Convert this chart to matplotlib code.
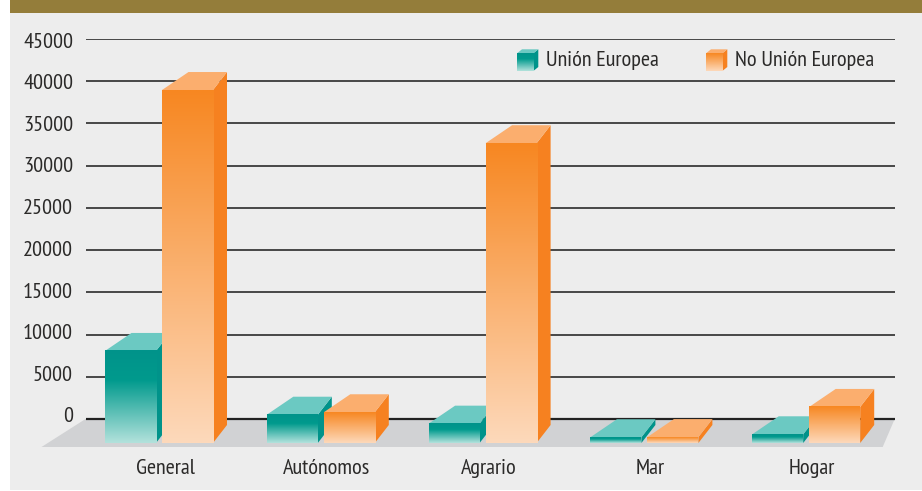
import numpy as np
import matplotlib
matplotlib.use("Agg")
import matplotlib.pyplot as plt
from matplotlib.patches import Polygon, Rectangle
from matplotlib.colors import LinearSegmentedColormap
from matplotlib.transforms import ScaledTranslation, Affine2D
from matplotlib import font_manager as fm

installed = {f.name for f in fm.fontManager.ttflist}
FONT = next((n for n in ["PT Sans Narrow", "Fira Sans Condensed", "Asap Condensed", "Archivo Narrow",
                         "Liberation Sans Narrow", "Liberation Sans"] if n in installed), "DejaVu Sans")

categories = ["General", "Autónomos", "Agrario", "Mar", "Hogar"]
union_europea = [10900, 3350, 2290, 680, 1030]
no_union_europea = [41800, 3640, 35500, 700, 4270]
y_ticks = [0, 5000, 10000, 15000, 20000, 25000, 30000, 35000, 40000, 45000]
series_names = ["Unión Europea", "No Unión Europea"]

W, H = 922, 491
DPI = 100
BG = "#EDEDED"
GOLD = "#947D3A"
FLOOR = "#D1D2D4"
TXT = "#2B2A29"
GRID = "#222222"
FS = 16

fig = plt.figure(figsize=(W / DPI, H / DPI), dpi=DPI, facecolor="white")
px = Affine2D().scale(1 / W, -1 / H).translate(0, 1) + fig.transFigure

fig.patches.append(Rectangle((10, 13), W - 10, H - 14, transform=px, fc=BG, ec="none", zorder=0))
fig.patches.append(Rectangle((10, 0), W - 10, 13, transform=px, fc=GOLD, ec="none", zorder=0))

L, R, TOP, ZERO, BOT = 85.5, 894.7, 39.0, 419.0, 447.0
ax = fig.add_axes([L / W, 1 - BOT / H, (R - L) / W, (BOT - TOP) / H])
ax.set_zorder(2)
ax.patch.set_alpha(0)
for s in ax.spines.values():
    s.set_visible(False)
units_per_px = 45000 / (ZERO - TOP)
GROUP0, STEP = 159.0, 161.8
xu = 1 / STEP
XLIM = ((L - GROUP0) / STEP, (R - GROUP0) / STEP)
YLIM = (-(BOT - ZERO) * units_per_px, 45000)

ax.set_yticks(y_ticks)
ax.set_yticklabels([str(t) for t in y_ticks], fontfamily=FONT, fontsize=FS, color=TXT)
ax.tick_params(axis="y", length=0, pad=9)
for t, lab in zip(y_ticks, ax.get_yticklabels()):
    dy_px = 5.0 * (45000 - t) / 45000 - 1
    lab.set_transform(lab.get_transform() + ScaledTranslation(0, dy_px / DPI, fig.dpi_scale_trans))
ax.set_xticks(np.arange(len(categories)) + 6 * xu)
ax.set_xticklabels(categories, fontfamily=FONT, fontsize=FS, color=TXT)
ax.tick_params(axis="x", length=0, pad=9)

for t in y_ticks:
    ax.axhline(t, color=GRID, lw=1.15 if t else 1.6, zorder=2)

ax.add_patch(Polygon([(XLIM[0], 0), (XLIM[1], 0), (XLIM[1] - 12 * xu, YLIM[0]), (XLIM[0] - 44 * xu, YLIM[0])],
                     fc=FLOOR, ec="none", clip_on=False, zorder=1.5))

teal = dict(grad=LinearSegmentedColormap.from_list("t", [(0, "#B3E2DC"), (0.68, "#009A8D"), (1, "#00938A")]),
            top="#6BC9C2", side="#00938A")
orng = dict(grad=LinearSegmentedColormap.from_list("o", ["#FDD9BB", "#F78721"]),
            top="#FBAE6E", side="#F68120")

BAR_W = 51.0 * xu
FRONT = 24 * units_per_px
DX_L, DX_R, DY = 26.5 * xu, 14 * xu, 18 * units_per_px
ramp = np.linspace(0, 1, 256)[::-1].reshape(-1, 1)


def bar(x0, v, st, z):
    x1 = x0 + BAR_W
    y0, y1 = -FRONT, v - FRONT
    ax.add_patch(Polygon([(x1, y0), (x1 + DX_R, y0 + DY), (x1 + DX_R, y1 + DY), (x1, y1)],
                         fc=st["side"], ec="none", zorder=z))
    ax.add_patch(Polygon([(x0, y1), (x0 + DX_L, y1 + DY), (x1 + DX_R, y1 + DY), (x1, y1)],
                         fc=st["top"], ec="none", zorder=z))
    ax.imshow(ramp, extent=(x0, x1, y0, y1), aspect="auto", cmap=st["grad"], vmin=0, vmax=1,
              zorder=z + 0.1, interpolation="bilinear")


for i, (a, b) in enumerate(zip(union_europea, no_union_europea)):
    bar(i - 54 * xu, a, teal, 3 + i)
    bar(i + 3 * xu, b, orng, 3.5 + i)

ax.set_xlim(*XLIM)
ax.set_ylim(*YLIM)


def swatch(x, st):
    y0, y1 = 53.3, 71.0
    w, dx, dy = 16.3, 5, 4
    fig.patches.append(Polygon([(x + w, y0), (x + w + dx, y0 - dy), (x + w + dx, y1 - dy), (x + w, y1)],
                               transform=px, fc=st["side"], ec="none", zorder=5))
    fig.patches.append(Polygon([(x, y0), (x + dx, y0 - dy), (x + w + dx, y0 - dy), (x + w, y0)],
                               transform=px, fc=st["top"], ec="none", zorder=5))
    im = fig.add_axes([x / W, 1 - y1 / H, w / W, (y1 - y0) / H])
    im.set_zorder(6)
    im.imshow(ramp, aspect="auto", cmap=st["grad"], vmin=0, vmax=1)
    im.axis("off")


swatch(517, teal)
swatch(706, orng)
fig.text(546, 60, series_names[0], transform=px, fontfamily=FONT, fontsize=FS, color=TXT, va="center", ha="left", zorder=7)
fig.text(735, 60, series_names[1], transform=px, fontfamily=FONT, fontsize=FS, color=TXT, va="center", ha="left", zorder=7)

fig.savefig("out.png", dpi=DPI, facecolor="white")
